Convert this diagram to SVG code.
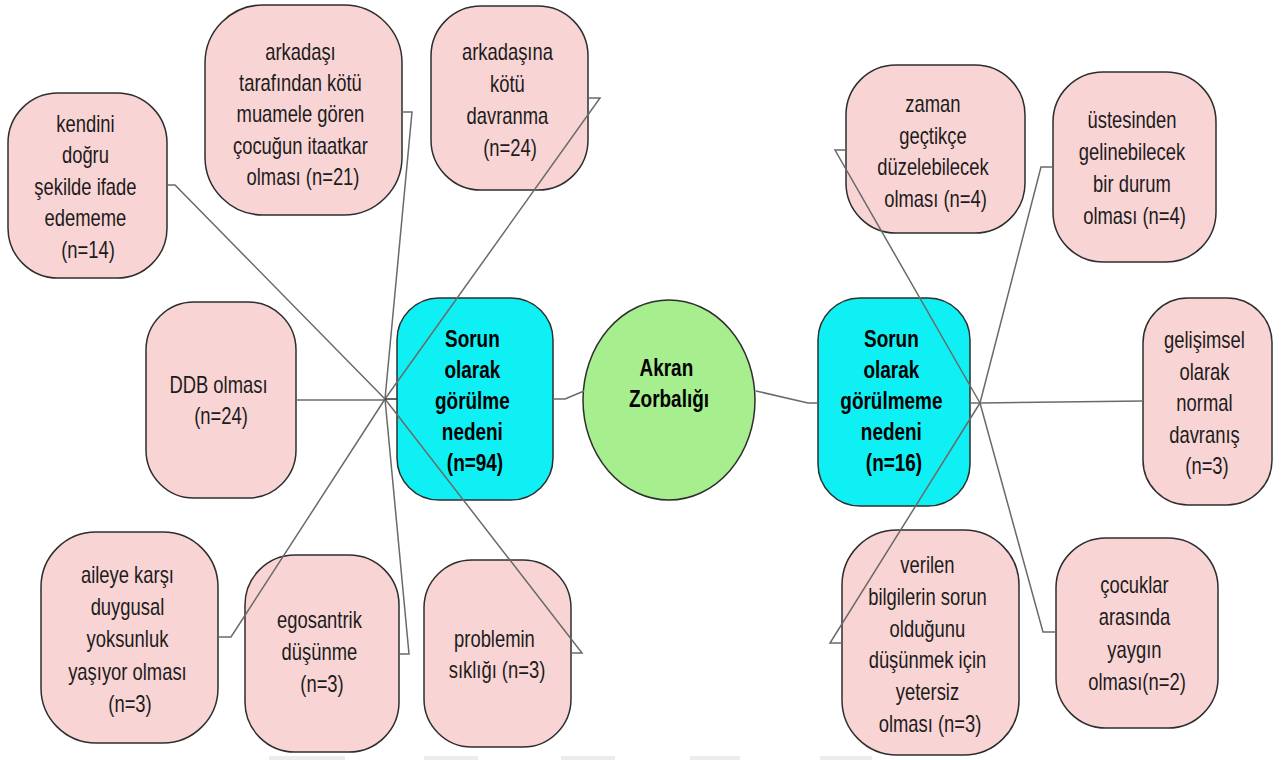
<svg xmlns="http://www.w3.org/2000/svg" width="1282" height="760" viewBox="0 0 1282 760">
  <style>
    .box { fill: #f9d4d4; stroke: #2e2e2e; stroke-width: 1.5; }
    .core { fill: #0ff0f4; stroke: #2e2e2e; stroke-width: 1.5; }
    .root { fill: #a6ee8e; stroke: #2e2e2e; stroke-width: 1.5; }
    .lbl { font-family: "Liberation Sans", Arial, sans-serif; font-size: 23px; fill: #1c1c1c; text-anchor: middle; }
    .bold { font-size: 24px; font-weight: bold; fill: #000; }
    .link { fill: none; stroke: #6a6a6a; stroke-width: 1.5; }
    .edge { fill: #ececec; }
  </style>

  <rect width="1282" height="760" fill="#ffffff"/>

  <!-- faint strip along the lower edge -->
  <g id="lower-strip">
    <rect class="edge" x="269" y="756" width="76" height="4"/>
    <rect class="edge" x="424" y="756" width="54" height="4"/>
    <rect class="edge" x="561" y="756" width="54" height="4"/>
    <rect class="edge" x="690" y="756" width="50" height="4"/>
    <rect class="edge" x="820" y="756" width="52" height="4"/>
  </g>

  <!-- node shapes -->
  <g id="n-kendini"><rect class="box" x="8" y="93" width="159" height="185" rx="50"/></g>
  <g id="n-arkadasi"><rect class="box" x="205" y="5" width="197" height="210" rx="58"/></g>
  <g id="n-arkadasina"><rect class="box" x="431" y="6" width="157" height="184" rx="50"/></g>
  <g id="n-ddb"><rect class="box" x="146" y="302" width="150" height="196" rx="48"/></g>
  <g id="n-aileye"><rect class="box" x="41" y="532" width="177" height="211" rx="55"/></g>
  <g id="n-egosantrik"><rect class="box" x="245" y="555" width="154" height="197" rx="50"/></g>
  <g id="n-problemin"><rect class="box" x="424" y="560" width="147" height="187" rx="48"/></g>
  <g id="n-sorun"><rect class="core" x="397" y="298" width="156" height="202" rx="42"/></g>
  <g id="n-akran"><ellipse class="root" cx="669" cy="400" rx="86" ry="100"/></g>
  <g id="n-sorun-degil"><rect class="core" x="818" y="298" width="152" height="208" rx="42"/></g>
  <g id="n-zaman"><rect class="box" x="846" y="65" width="179" height="168" rx="50"/></g>
  <g id="n-ustesinden"><rect class="box" x="1053" y="72" width="163" height="190" rx="50"/></g>
  <g id="n-gelisimsel"><rect class="box" x="1143" y="298" width="129" height="207" rx="45"/></g>
  <g id="n-verilen"><rect class="box" x="842" y="530" width="177" height="225" rx="55"/></g>
  <g id="n-cocuklar"><rect class="box" x="1056" y="538" width="162" height="190" rx="50"/></g>

  <!-- connectors (drawn over the boxes) -->
  <g id="connectors">
    <path class="link" d="M167,185 H175 L385,399"/>
    <path class="link" d="M402,112 H412 L385,399"/>
    <path class="link" d="M588,98 H600 L385,399"/>
    <path class="link" d="M296,400 H385"/>
    <path class="link" d="M218,637 H231 L385,399"/>
    <path class="link" d="M399,654 H409 L385,399"/>
    <path class="link" d="M571,653 H582 L385,399"/>
    <path class="link" d="M385,399 H397" style="stroke:#333"/>
    <path class="link" d="M553,399 H565 L584,391"/>
    <path class="link" d="M756,391 L808,403 H818"/>
    <path class="link" d="M970,403 H980"/>
    <path class="link" d="M846,150 H835 L980,403"/>
    <path class="link" d="M1053,167 H1041 L980,403"/>
    <path class="link" d="M980,403 L1143,401"/>
    <path class="link" d="M842,643 H830 L980,403"/>
    <path class="link" d="M1056,632 H1043 L980,403"/>
  </g>

  <!-- labels -->
  <g id="labels">
    <text class="lbl" transform="translate(88 0) scale(0.8 1)">
      <tspan x="0" y="132">kendini</tspan>
      <tspan x="0" y="163.5">doğru</tspan>
      <tspan x="0" y="195">şekilde ifade</tspan>
      <tspan x="0" y="226.5">edememe</tspan>
      <tspan x="0" y="258">(n=14)</tspan>
    </text>
    <text class="lbl" transform="translate(303 0) scale(0.8 1)">
      <tspan x="0" y="60">arkadaşı</tspan>
      <tspan x="0" y="91">tarafından kötü</tspan>
      <tspan x="0" y="122.5">muamele gören</tspan>
      <tspan x="0" y="154">çocuğun itaatkar</tspan>
      <tspan x="0" y="185">olması (n=21)</tspan>
    </text>
    <text class="lbl" transform="translate(510 0) scale(0.8 1)">
      <tspan x="0" y="60">arkadaşına</tspan>
      <tspan x="0" y="92">kötü</tspan>
      <tspan x="0" y="124">davranma</tspan>
      <tspan x="0" y="156">(n=24)</tspan>
    </text>
    <text class="lbl" transform="translate(221 0) scale(0.8 1)">
      <tspan x="0" y="393">DDB olması</tspan>
      <tspan x="0" y="424">(n=24)</tspan>
    </text>
    <text class="lbl" transform="translate(130 0) scale(0.8 1)">
      <tspan x="0" y="583">aileye karşı</tspan>
      <tspan x="0" y="615">duygusal</tspan>
      <tspan x="0" y="647.5">yoksunluk</tspan>
      <tspan x="0" y="680">yaşıyor olması</tspan>
      <tspan x="0" y="712">(n=3)</tspan>
    </text>
    <text class="lbl" transform="translate(322 0) scale(0.8 1)">
      <tspan x="0" y="628">egosantrik</tspan>
      <tspan x="0" y="660">düşünme</tspan>
      <tspan x="0" y="692">(n=3)</tspan>
    </text>
    <text class="lbl" transform="translate(497 0) scale(0.8 1)">
      <tspan x="0" y="647">problemin</tspan>
      <tspan x="0" y="678">sıklığı (n=3)</tspan>
    </text>
    <text class="lbl bold" transform="translate(475 0) scale(0.79 1)">
      <tspan x="0" y="347">Sorun</tspan>
      <tspan x="0" y="378">olarak</tspan>
      <tspan x="0" y="409">görülme</tspan>
      <tspan x="0" y="440">nedeni</tspan>
      <tspan x="0" y="471">(n=94)</tspan>
    </text>
    <text class="lbl bold" transform="translate(669 0) scale(0.79 1)">
      <tspan x="0" y="376">Akran</tspan>
      <tspan x="0" y="407">Zorbalığı</tspan>
    </text>
    <text class="lbl bold" transform="translate(894 0) scale(0.79 1)">
      <tspan x="0" y="347">Sorun</tspan>
      <tspan x="0" y="378">olarak</tspan>
      <tspan x="0" y="409">görülmeme</tspan>
      <tspan x="0" y="440">nedeni</tspan>
      <tspan x="0" y="471">(n=16)</tspan>
    </text>
    <text class="lbl" transform="translate(935.5 0) scale(0.8 1)">
      <tspan x="0" y="112">zaman</tspan>
      <tspan x="0" y="144">geçtikçe</tspan>
      <tspan x="0" y="175.5">düzelebilecek</tspan>
      <tspan x="0" y="207">olması (n=4)</tspan>
    </text>
    <text class="lbl" transform="translate(1134.5 0) scale(0.8 1)">
      <tspan x="0" y="128">üstesinden</tspan>
      <tspan x="0" y="160">gelinebilecek</tspan>
      <tspan x="0" y="192">bir durum</tspan>
      <tspan x="0" y="224">olması (n=4)</tspan>
    </text>
    <text class="lbl" transform="translate(1207 0) scale(0.8 1)">
      <tspan x="0" y="348">gelişimsel</tspan>
      <tspan x="0" y="380">olarak</tspan>
      <tspan x="0" y="411.5">normal</tspan>
      <tspan x="0" y="443">davranış</tspan>
      <tspan x="0" y="474">(n=3)</tspan>
    </text>
    <text class="lbl" transform="translate(930 0) scale(0.8 1)">
      <tspan x="0" y="573">verilen</tspan>
      <tspan x="0" y="605">bilgilerin sorun</tspan>
      <tspan x="0" y="637">olduğunu</tspan>
      <tspan x="0" y="668">düşünmek için</tspan>
      <tspan x="0" y="700">yetersiz</tspan>
      <tspan x="0" y="732">olması (n=3)</tspan>
    </text>
    <text class="lbl" transform="translate(1137 0) scale(0.8 1)">
      <tspan x="0" y="593">çocuklar</tspan>
      <tspan x="0" y="625">arasında</tspan>
      <tspan x="0" y="658">yaygın</tspan>
      <tspan x="0" y="690">olması(n=2)</tspan>
    </text>
  </g>
</svg>
